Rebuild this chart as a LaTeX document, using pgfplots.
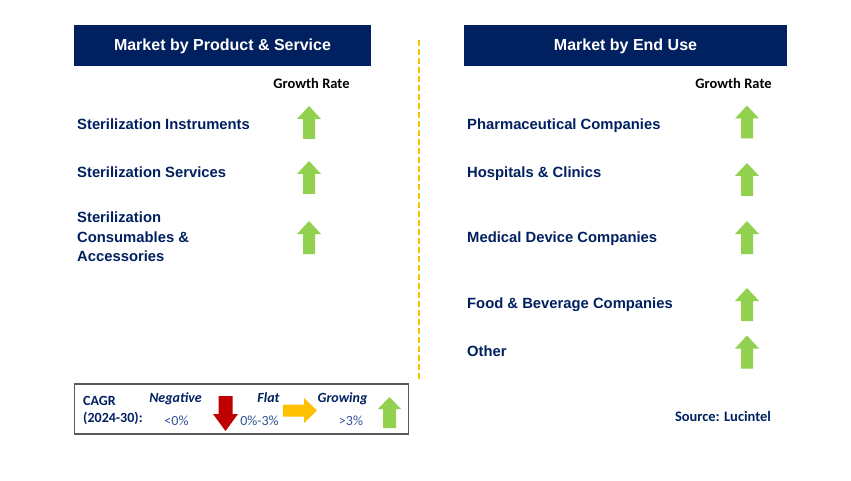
\documentclass[border=0pt]{standalone}
\usepackage{fontspec}
\setmainfont{Liberation Sans}
\newfontfamily\calibri{Carlito}
\usepackage{pgfplots}
\pgfplotsset{compat=1.18}
\definecolor{navy}{HTML}{002060}
\definecolor{lblue}{HTML}{2E5597}
\definecolor{agreen}{HTML}{92D050}
\definecolor{ared}{HTML}{C00000}
\definecolor{aorange}{HTML}{FFC000}
\definecolor{bgray}{HTML}{595959}
\pgfdeclareplotmark{uparrow}{%
  \pgfpathmoveto{\pgfpoint{-6pt}{-16.5pt}}%
  \pgfpathlineto{\pgfpoint{6pt}{-16.5pt}}%
  \pgfpathlineto{\pgfpoint{6pt}{3.5pt}}%
  \pgfpathlineto{\pgfpoint{12pt}{3.5pt}}%
  \pgfpathlineto{\pgfpoint{0pt}{16.5pt}}%
  \pgfpathlineto{\pgfpoint{-12pt}{3.5pt}}%
  \pgfpathlineto{\pgfpoint{-6pt}{3.5pt}}%
  \pgfpathclose\pgfusepathqfill}
\pgfdeclareplotmark{uparrowsmall}{%
  \pgfpathmoveto{\pgfpoint{-6.5pt}{-15.5pt}}%
  \pgfpathlineto{\pgfpoint{6.5pt}{-15.5pt}}%
  \pgfpathlineto{\pgfpoint{6.5pt}{3.5pt}}%
  \pgfpathlineto{\pgfpoint{11.5pt}{3.5pt}}%
  \pgfpathlineto{\pgfpoint{0pt}{15.5pt}}%
  \pgfpathlineto{\pgfpoint{-11.5pt}{3.5pt}}%
  \pgfpathlineto{\pgfpoint{-6.5pt}{3.5pt}}%
  \pgfpathclose\pgfusepathqfill}
\pgfdeclareplotmark{downarrow}{%
  \pgfpathmoveto{\pgfpoint{-7pt}{17.5pt}}%
  \pgfpathlineto{\pgfpoint{7pt}{17.5pt}}%
  \pgfpathlineto{\pgfpoint{7pt}{-0.5pt}}%
  \pgfpathlineto{\pgfpoint{12.5pt}{-0.5pt}}%
  \pgfpathlineto{\pgfpoint{0pt}{-17.5pt}}%
  \pgfpathlineto{\pgfpoint{-12.5pt}{-0.5pt}}%
  \pgfpathlineto{\pgfpoint{-7pt}{-0.5pt}}%
  \pgfpathclose\pgfusepathqfill}
\pgfdeclareplotmark{rightarrow}{%
  \pgfpathmoveto{\pgfpoint{-17pt}{6pt}}%
  \pgfpathlineto{\pgfpoint{4pt}{6pt}}%
  \pgfpathlineto{\pgfpoint{4pt}{12.5pt}}%
  \pgfpathlineto{\pgfpoint{17pt}{0pt}}%
  \pgfpathlineto{\pgfpoint{4pt}{-12.5pt}}%
  \pgfpathlineto{\pgfpoint{4pt}{-6pt}}%
  \pgfpathlineto{\pgfpoint{-17pt}{-6pt}}%
  \pgfpathclose\pgfusepathqfill}
\begin{document}
\begin{tikzpicture}
\begin{axis}[
  scale only axis, width=851pt, height=481pt,
  xmin=0, xmax=851, ymin=0, ymax=481, y dir=reverse,
  axis lines=none, ticks=none, clip=false,
]
\addplot[fill=white, draw=none] coordinates {(0,0)(851,0)(851,481)(0,481)} -- cycle;
\addplot[fill=navy, draw=none] coordinates {(74,25)(371,25)(371,66)(74,66)} -- cycle;
\addplot[fill=navy, draw=none] coordinates {(464,25)(787,25)(787,66)(464,66)} -- cycle;
\addplot[aorange, line width=2pt, dash pattern=on 6pt off 3pt] coordinates {(419,40)(419,380)};
\addplot[bgray, line width=1.3pt] coordinates {(74.5,384)(408.5,384)(408.5,434)(74.5,434)} -- cycle;
\addplot[only marks, mark=uparrow, color=agreen] coordinates {(309,122.5)(309,177.5)(309,237.5)};
\addplot[only marks, mark=uparrow, color=agreen] coordinates {(747,122)(747,179.5)(747,237.5)(747,304.5)(747,352)};
\addplot[only marks, mark=downarrow, color=ared] coordinates {(225.5,413.5)};
\addplot[only marks, mark=rightarrow, color=aorange] coordinates {(300,410.5)};
\addplot[only marks, mark=uparrowsmall, color=agreen] coordinates {(389.5,412.5)};

\begin{scope}[every node/.style={inner sep=0pt}]
\node[anchor=base, text=white, font=\fontsize{16}{19}\selectfont\bfseries] at (axis cs:222.5,51) {Market by Product \& Service};
\node[anchor=base, text=white, font=\fontsize{16}{19}\selectfont\bfseries] at (axis cs:625.5,51) {Market by End Use};
\node[anchor=base, text=black, font=\calibri\fontsize{14.5}{17}\selectfont\bfseries] at (axis cs:311.5,89) {Growth Rate};
\node[anchor=base, text=black, font=\calibri\fontsize{14.5}{17}\selectfont\bfseries] at (axis cs:733.5,89) {Growth Rate};
\end{scope}
\begin{scope}[every node/.style={inner sep=0pt, anchor=base west, text=navy, font=\fontsize{14.8}{19.7}\selectfont\bfseries}]
\node at (axis cs:77,129.5) {Sterilization Instruments};
\node at (axis cs:77,177.5) {Sterilization Services};
\node at (axis cs:77,222.5) {Sterilization};
\node at (axis cs:77,242.3) {Consumables \&};
\node at (axis cs:77,261.9) {Accessories};
\node at (axis cs:467,129.5) {Pharmaceutical Companies};
\node at (axis cs:467,177.5) {Hospitals \& Clinics};
\node at (axis cs:467,242.5) {Medical Device Companies};
\node at (axis cs:467,308.3) {Food \& Beverage Companies};
\node at (axis cs:467,356) {Other};
\end{scope}
\begin{scope}[every node/.style={inner sep=0pt}]
\node[anchor=base, text=navy, font=\calibri\fontsize{14.5}{17}\selectfont\bfseries] at (axis cs:723,421.7) {Source: Lucintel};
\node[anchor=base west, text=navy, font=\calibri\fontsize{14}{16}\selectfont\bfseries] at (axis cs:83,405) {CAGR};
\node[anchor=base west, text=navy, font=\calibri\fontsize{14}{16}\selectfont\bfseries] at (axis cs:83,422.7) {(2024-30):};
\node[anchor=base, text=navy, font=\calibri\fontsize{14}{16}\selectfont\bfseries\itshape] at (axis cs:175.5,402.7) {Negative};
\node[anchor=base, text=navy, font=\calibri\fontsize{14}{16}\selectfont\bfseries\itshape] at (axis cs:268.5,402.7) {Flat};
\node[anchor=base, text=navy, font=\calibri\fontsize{14}{16}\selectfont\bfseries\itshape] at (axis cs:342.5,402.7) {Growing};
\node[anchor=base, text=lblue, font=\calibri\fontsize{14}{16}\selectfont] at (axis cs:176.5,425.7) {<0\%};
\node[anchor=base, text=lblue, font=\calibri\fontsize{14}{16}\selectfont] at (axis cs:259.5,425.7) {0\%-3\%};
\node[anchor=base, text=lblue, font=\calibri\fontsize{14}{16}\selectfont] at (axis cs:351,425.7) {>3\%};
\end{scope}
\end{axis}
\end{tikzpicture}
\end{document}
